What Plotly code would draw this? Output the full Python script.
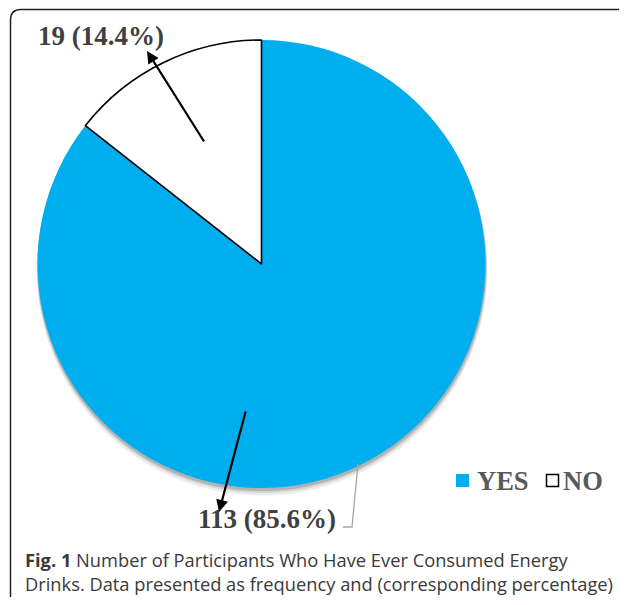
import plotly.graph_objects as go

# ---- data ----
labels = ["YES", "NO"]
values = [113, 19]
slice_colors = ["#00AEEF", "#FFFFFF"]
caption_bold = "Fig. 1"
caption_rest = " Number of Participants Who Have Ever Consumed Energy<br>Drinks. Data presented as frequency and (corresponding percentage)"

# page body has an 8px margin; work in screen pixel coordinates
OFF = 8
SW, SH = 627, 605
W, H = SW - OFF, SH - 2 * OFF
cx, cy, r = 261.5, 264.0, 224.0

total = sum(values)
label_txt = [f"{v} ({100*v/total:.1f}%)" for v in values]


def dom(cx_, cy_, r_):
    return dict(x=[(cx_ - r_ - OFF) / W, (cx_ + r_ - OFF) / W],
                y=[1 - (cy_ + r_ - OFF) / H, 1 - (cy_ - r_ - OFF) / H])


fig = go.Figure()

# soft shadow layers
for dx, dy, dr, a in [(0.5, 6, 1.5, 0.07), (0.5, 4, 1.0, 0.10), (0.3, 2.5, 0.5, 0.16)]:
    fig.add_trace(go.Pie(values=[1], labels=["s"], domain=dom(cx + dx, cy + dy, r + dr),
                         marker=dict(colors=[f"rgba(0,0,0,{a})"], line=dict(width=0)),
                         textinfo="none", hoverinfo="skip", showlegend=False, sort=False))

fig.add_trace(go.Pie(
    labels=labels, values=values, sort=False, direction="clockwise", rotation=0,
    domain=dom(cx, cy, r),
    marker=dict(colors=slice_colors, line=dict(color=["#00AEEF", "#000000"], width=[0, 1.6])),
    textinfo="none", hoverinfo="label+value+percent", showlegend=False,
))

lab_font = dict(family="Liberation Serif", size=27, color="#404040")
leg_font = dict(family="Liberation Serif", size=26.5, color="#595959")

annotations = [
    dict(x=36, y=36, xref="x", yref="y", text=f"<b>{label_txt[1]}</b>", showarrow=False,
         xanchor="left", yanchor="middle", font=lab_font),
    dict(x=196, y=519, xref="x", yref="y", text=f"<b>{label_txt[0]}</b>", showarrow=False,
         xanchor="left", yanchor="middle", font=lab_font),
    dict(x=147, y=51, ax=205, ay=143, xref="x", yref="y", axref="x", ayref="y", text="",
         showarrow=True, arrowhead=2, arrowsize=1.1, arrowwidth=2.2, arrowcolor="#000000"),
    dict(x=219, y=512, ax=246, ay=410, xref="x", yref="y", axref="x", ayref="y", text="",
         showarrow=True, arrowhead=2, arrowsize=1.1, arrowwidth=2.2, arrowcolor="#000000"),
    dict(x=475, y=481, xref="x", yref="y", text=f"<b>{labels[0]}</b>", showarrow=False,
         xanchor="left", yanchor="middle", font=leg_font),
    dict(x=561, y=481, xref="x", yref="y", text=f"<b>{labels[1]}</b>", showarrow=False,
         xanchor="left", yanchor="middle", font=leg_font),
    dict(x=23, y=571, xref="x", yref="y", text=f"<b>{caption_bold}</b>{caption_rest}", showarrow=False,
         xanchor="left", yanchor="middle", align="left",
         font=dict(family="Open Sans", size=18.3, color="#3a3a3a")),
]

shapes = [
    dict(type="path", xref="x", yref="y",
         path="M 640 9.5 L 21 9.5 Q 10.5 9.5 10.5 20 L 10.5 596 Q 10.5 606.5 21 606.5 L 640 606.5",
         line=dict(color="#222222", width=1.5)),
    dict(type="path", xref="x", yref="y", path="M 358 464 L 352 527 L 343 527",
         line=dict(color="#A6A6A6", width=1.3)),
    dict(type="rect", xref="x", yref="y", x0=456, x1=469, y0=474, y1=487,
         fillcolor=slice_colors[0], line=dict(width=0)),
    dict(type="rect", xref="x", yref="y", x0=546.5, x1=558.5, y0=474.5, y1=486.5,
         fillcolor=slice_colors[1], line=dict(color="#000000", width=1.5)),
]

fig.update_layout(
    width=W, height=H, margin=dict(l=0, r=0, t=0, b=0),
    paper_bgcolor="white", plot_bgcolor="rgba(0,0,0,0)",
    xaxis=dict(range=[OFF, SW], visible=False, fixedrange=True),
    yaxis=dict(range=[OFF + H, OFF], visible=False, fixedrange=True),
    annotations=annotations, shapes=shapes, showlegend=False,
)

fig.write_html("out.html")
